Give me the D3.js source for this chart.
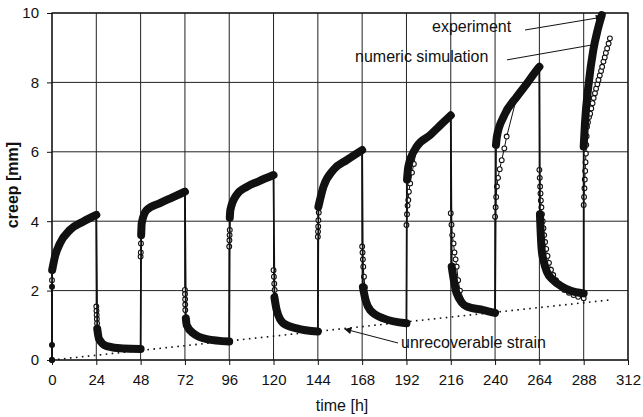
<!DOCTYPE html>
<html>
<head>
<meta charset="utf-8">
<script src="https://cdn.jsdelivr.net/npm/d3@7"></script>
<style>
  body { margin: 0; background: #fff; }
  text { font-family: Arial, "Liberation Sans", sans-serif; fill: #111; }
</style>
</head>
<body>
<div id="wrapper"></div>
<script>
// tick values
const xTicks = [0, 24, 48, 72, 96, 120, 144, 168, 192, 216, 240, 264, 288, 312]
const yTicks = [0, 2, 4, 6, 8, 10]

// experiment
const expTime = [
  0, 0, 0, 0.1, 1.6, 4.3, 9.75, 17, 24,
  24.5, 25.5, 29.6, 38.6, 48,
  48.3, 48.6, 51.3, 58.5, 65, 72,
  72.5, 73, 76.5, 83.8, 96,
  96.3, 96.6, 100, 105.5, 112, 120,
  120.5, 121.7, 125.3, 132.6, 144,
  144.3, 147, 152.4, 159.6, 168,
  168.4, 170, 172.3, 179.5, 192,
  192.3, 193, 197.6, 204.8, 210, 216,
  216.5, 219.2, 224.7, 233.7, 240,
  240.5, 241, 244.6, 251.8, 257, 262.6, 264,
  264.3, 265.2, 266.2, 268, 271.6, 276, 280.6, 288,
  288, 288.7, 290.7, 293.2, 295.5, 297.8
]
const expCreep = [
  0, 0.43, 2.11, 2.59, 2.98, 3.36, 3.75, 3.99, 4.18,
  0.9, 0.6, 0.4, 0.33, 0.32,
  3.6, 3.94, 4.32, 4.52, 4.68, 4.85,
  1.2, 1.0, 0.77, 0.6, 0.53,
  4.1, 4.32, 4.76, 4.99, 5.15, 5.33,
  1.8, 1.44, 1.06, 0.91, 0.82,
  4.42, 4.99, 5.48, 5.76, 6.05,
  2.1, 1.7, 1.44, 1.2, 1.06,
  5.2, 5.57, 6.15, 6.48, 6.75, 7.05,
  2.69, 1.92, 1.54, 1.44, 1.36,
  6.2, 6.44, 7.01, 7.59, 7.95, 8.36, 8.45,
  4.2, 3.2, 2.88, 2.55, 2.3, 2.12, 2.0, 1.92,
  6.15, 6.83, 7.97, 8.93, 9.5, 9.94
]

// numeric simulation
const simTime = [
  0, 0, 0.1, 1.6, 4.3, 9.75, 17, 24,
  24, 24.1, 24.2, 24.3, 24.4, 24.6, 25.5, 29.6, 38.6, 48,
  48, 48.1, 48.2, 48.4, 48.6, 51.3, 58.5, 65, 72,
  72, 72.05, 72.1, 72.15, 72.2, 72.5, 73, 76.5, 83.8, 96,
  96, 96.1, 96.2, 96.3, 96.5, 96.6, 100, 105.5, 112, 120,
  120, 120.2, 120.4, 120.6, 120.8, 121.7, 125.3, 132.6, 144,
  144, 144.1, 144.2, 144.3, 144.5, 147, 152.4, 159.6, 168,
  168, 168.2, 168.4, 168.6, 169, 169.5, 170, 172.3, 179.5, 192,
  192, 192.3, 192.6, 193, 193.3, 194, 195, 196, 197.6, 204.8, 210, 216,
  216, 216.4, 216.8, 217.5, 218, 218.6, 219.2, 220, 221, 224.7, 233.7, 240,
  240, 240.3, 240.6, 241, 241.6, 242.5, 243.6, 245, 246.3, 251.8, 257, 262.6, 264,
  264, 264.2, 264.4, 264.6, 264.8, 265.1, 265.4, 265.8, 266.2, 266.6, 267.1, 267.7,
  268.4, 269.2, 270.3, 271.5, 273, 275, 277.5, 280, 282.5, 285, 288,
  288, 288.2, 288.4, 288.6, 288.8, 289, 289.2, 289.4, 289.6, 289.8, 290.3, 290.9,
  291.5, 292.1, 292.8, 293.4, 294.1, 294.7, 295.4, 296, 296.7, 297.4, 298, 298.7,
  299.4, 300, 300.7, 301.5, 302.2
]
const simCreep = [
  0, 2.3, 2.59, 2.98, 3.36, 3.75, 3.99, 4.18,
  1.54, 1.42, 1.3, 1.18, 1.06, 0.85, 0.6, 0.4, 0.33, 0.32,
  2.98, 3.1, 3.36, 3.6, 3.94, 4.32, 4.52, 4.68, 4.85,
  2.02, 1.9, 1.75, 1.6, 1.44, 1.2, 1.0, 0.77, 0.6, 0.53,
  3.27, 3.45, 3.6, 3.75, 4.1, 4.32, 4.76, 4.99, 5.15, 5.33,
  2.59, 2.4, 2.2, 2.02, 1.85, 1.44, 1.06, 0.91, 0.82,
  3.55, 3.7, 3.85, 4.03, 4.25, 4.99, 5.48, 5.76, 6.05,
  3.27, 3.1, 2.9, 2.69, 2.4, 2.1, 1.7, 1.44, 1.2, 1.06,
  3.89, 4.2, 4.45, 4.61, 4.85, 5.09, 5.4, 5.65, 6.15, 6.48, 6.75, 7.05,
  4.23, 3.9, 3.6, 3.36, 3.1, 2.9, 2.69, 2.3, 2.0, 1.54, 1.44, 1.36,
  4.13, 4.4, 4.7, 5.0, 5.25, 5.5, 5.76, 6.1, 6.44, 7.59, 7.95, 8.36, 8.45,
  5.48, 5.25, 5.0, 4.8, 4.6, 4.4, 4.2, 4.0, 3.8, 3.6, 3.4, 3.2,
  3.0, 2.8, 2.6, 2.45, 2.3, 2.15, 2.02, 1.94, 1.87, 1.82, 1.78,
  4.47, 4.7, 4.95, 5.2, 5.45, 5.7, 5.95, 6.2, 6.45, 6.72, 6.85, 7.0,
  7.1, 7.25, 7.4, 7.55, 7.69, 7.82, 7.95, 8.07, 8.2, 8.33, 8.45, 8.6,
  8.72, 8.85, 8.98, 9.12, 9.27
]

// unrecoverable strain trend
const unrecTime = [0, 302]
const unrecCreep = [0, 1.73]

const W = 643, H = 417
let dimensions = {width: W, height: H, margin: {top: 13, right: 15, left: 52, bottom: 57}}
const boundW = W - dimensions.margin.left - dimensions.margin.right
const boundH = H - dimensions.margin.top - dimensions.margin.bottom

const svg = d3.select("#wrapper").append("svg")
  .attr("width", W).attr("height", H)

const defs = svg.append("defs")
defs.append("marker")
  .attr("id", "arrow")
  .attr("viewBox", "0 0 10 10")
  .attr("refX", 9).attr("refY", 5)
  .attr("markerWidth", 9).attr("markerHeight", 7)
  .attr("markerUnits", "userSpaceOnUse")
  .attr("orient", "auto")
  .append("path").attr("d", "M0,0 L10,5 L0,10 z").attr("fill", "#111")

const bounds = svg.append("g")
  .attr("transform", `translate(${dimensions.margin.left},${dimensions.margin.top})`)

const xScale = d3.scaleLinear().domain([0, 312]).range([0, boundW])
const yScale = d3.scaleLinear().domain([0, 10]).range([boundH, 0])

// grid
bounds.append("g").selectAll("line").data(xTicks).enter().append("line")
  .attr("x1", d => xScale(d)).attr("x2", d => xScale(d))
  .attr("y1", 0).attr("y2", boundH)
  .attr("stroke", "#222").attr("stroke-width", 1)
bounds.append("g").selectAll("line").data(yTicks).enter().append("line")
  .attr("y1", d => yScale(d)).attr("y2", d => yScale(d))
  .attr("x1", 0).attr("x2", boundW)
  .attr("stroke", "#222").attr("stroke-width", 1)
bounds.append("rect")
  .attr("width", boundW).attr("height", boundH)
  .attr("fill", "none").attr("stroke", "#111").attr("stroke-width", 1.2)

// axes
bounds.append("g")
  .attr("transform", `translate(0,${boundH})`)
  .call(d3.axisBottom(xScale).tickValues(xTicks).tickSize(5).tickSizeOuter(0).tickPadding(9))
bounds.append("g")
  .call(d3.axisLeft(yScale).tickValues(yTicks).tickSize(5).tickSizeOuter(0).tickPadding(8))
svg.selectAll(".domain").remove()
svg.selectAll(".tick line").attr("stroke", "#111")
svg.selectAll(".tick text").style("font-size", "15px").attr("fill", "#111")

svg.append("text")
  .attr("transform", `translate(18,${dimensions.margin.top + 172}) rotate(-90)`)
  .attr("text-anchor", "middle")
  .style("font-size", "16px").style("font-weight", "bold")
  .text("creep [mm]")
svg.append("text")
  .attr("x", 342).attr("y", 411)
  .attr("text-anchor", "middle")
  .style("font-size", "16px")
  .text("time [h]")

// dotted trend
bounds.append("path")
  .datum(unrecTime.map((t, i) => [t, unrecCreep[i]]))
  .attr("d", d3.line().x(d => xScale(d[0])).y(d => yScale(d[1])))
  .attr("fill", "none").attr("stroke", "#111")
  .attr("stroke-width", 1.6).attr("stroke-dasharray", "1.6,4.4")

const lin = d3.line().x(d => xScale(d[0])).y(d => yScale(d[1]))
const smooth = d3.line().x(d => xScale(d[0])).y(d => yScale(d[1])).curve(d3.curveMonotoneX)

// simulation
const simPts = simTime.map((t, i) => [t, simCreep[i]])
bounds.append("path")
  .datum(simPts)
  .attr("d", lin)
  .attr("fill", "none").attr("stroke", "#111").attr("stroke-width", 1)
bounds.append("g").selectAll("circle").data(simPts).enter().append("circle")
  .attr("cx", d => xScale(d[0])).attr("cy", d => yScale(d[1]))
  .attr("r", 2.4)
  .attr("fill", "#fff").attr("stroke", "#111").attr("stroke-width", 1.1)

// experiment: thin line for the jumps, thick smooth band for the measured runs
const expPts = expTime.map((t, i) => [t, expCreep[i]])
bounds.append("path")
  .datum(expPts)
  .attr("d", lin)
  .attr("fill", "none").attr("stroke", "#111").attr("stroke-width", 1.8)

const runs = []
let cur = []
d3.pairs(expPts).forEach(([a, b]) => {
  const dt = b[0] - a[0]
  const jump = dt <= 0 || Math.abs(b[1] - a[1]) / dt > 4
  if (jump) {
    if (cur.length > 1) runs.push(cur)
    cur = []
  } else {
    if (cur.length === 0) cur.push(a)
    cur.push(b)
  }
})
if (cur.length > 1) runs.push(cur)

bounds.append("g").selectAll("path").data(runs).enter().append("path")
  .attr("d", smooth)
  .attr("fill", "none").attr("stroke", "#111")
  .attr("stroke-width", 8).attr("stroke-linecap", "round").attr("stroke-linejoin", "round")
bounds.append("g").selectAll("circle").data(expPts).enter().append("circle")
  .attr("cx", d => xScale(d[0])).attr("cy", d => yScale(d[1]))
  .attr("r", 3)
  .attr("fill", "#111")

// annotations
const notes = bounds.append("g")
notes.append("line")
  .attr("x1", xScale(256.2)).attr("y1", yScale(9.51))
  .attr("x2", xScale(298)).attr("y2", yScale(9.88))
  .attr("stroke", "#111").attr("stroke-width", 1)
  .attr("marker-end", "url(#arrow)")
notes.append("line")
  .attr("x1", xScale(246.5)).attr("y1", yScale(8.65))
  .attr("x2", xScale(295.8)).attr("y2", yScale(9.11))
  .attr("stroke", "#111").attr("stroke-width", 1)
notes.append("line")
  .attr("x1", xScale(187.4)).attr("y1", yScale(0.49))
  .attr("x2", xScale(158.7)).attr("y2", yScale(0.89))
  .attr("stroke", "#111").attr("stroke-width", 1)
  .attr("marker-end", "url(#arrow)")

svg.append("text").attr("x", 432).attr("y", 32)
  .style("font-size", "16px").text("experiment")
svg.append("text").attr("x", 355).attr("y", 62)
  .style("font-size", "16px").text("numeric simulation")
svg.append("text").attr("x", 401).attr("y", 348)
  .style("font-size", "16px").text("unrecoverable strain")
</script>
</body>
</html>
